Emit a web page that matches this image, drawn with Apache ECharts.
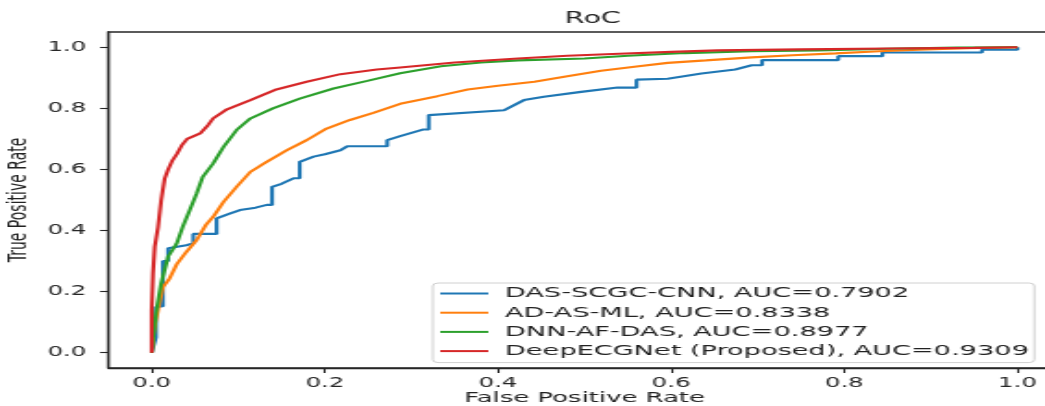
<!DOCTYPE html>
<html>
<head>
<meta charset="utf-8">
<script src="https://cdn.jsdelivr.net/npm/echarts@6/dist/echarts.min.js"></script>
<style>
html,body{margin:0;padding:0;background:#fff;overflow:hidden;width:1045px;height:406px;}
#chart{width:565px;height:406px;transform:scaleX(1.8496);transform-origin:0 0;}
</style>
</head>
<body>
<div id="chart"></div>
<script>
// ---- data ----
const titleText = 'RoC';
const xName = 'False Positive Rate';
const yName = 'True Positive Rate';
const tickValues = [0, 0.2, 0.4, 0.6, 0.8, 1.0];
const seriesNames = [
  'DAS-SCGC-CNN, AUC=0.7902',
  'AD-AS-ML, AUC=0.8338',
  'DNN-AF-DAS, AUC=0.8977',
  'DeepECGNet (Proposed), AUC=0.9309'
];
const seriesColors = ['#1f77b4', '#ff7f0e', '#2ca02c', '#d62728'];

const dasScgcCnn = [[0,0],[0.005,0.05],[0.005,0.15],[0.013,0.152],[0.013,0.30],[0.019,0.30],[0.019,0.342],[0.04,0.352],[0.048,0.358],[0.048,0.389],[0.075,0.389],[0.075,0.44],[0.09,0.455],[0.102,0.467],[0.12,0.475],[0.133,0.484],[0.139,0.484],[0.139,0.543],[0.15,0.553],[0.164,0.571],[0.171,0.571],[0.171,0.625],[0.187,0.642],[0.2,0.65],[0.218,0.663],[0.226,0.676],[0.272,0.676],[0.272,0.696],[0.287,0.709],[0.314,0.731],[0.32,0.731],[0.32,0.778],[0.407,0.794],[0.43,0.827],[0.453,0.838],[0.496,0.854],[0.538,0.868],[0.56,0.868],[0.56,0.894],[0.596,0.897],[0.635,0.914],[0.674,0.927],[0.693,0.941],[0.705,0.941],[0.705,0.958],[0.793,0.958],[0.793,0.971],[0.844,0.971],[0.844,0.983],[0.959,0.983],[0.959,0.992],[1.0,0.992],[1,1]];
const adAsMl = [[0,0],[0.003,0.08],[0.008,0.15],[0.013,0.215],[0.02,0.24],[0.029,0.29],[0.04,0.33],[0.052,0.369],[0.063,0.42],[0.071,0.445],[0.083,0.494],[0.098,0.543],[0.114,0.592],[0.133,0.625],[0.156,0.663],[0.179,0.696],[0.202,0.734],[0.229,0.762],[0.256,0.785],[0.287,0.815],[0.33,0.84],[0.365,0.862],[0.4,0.874],[0.442,0.887],[0.48,0.905],[0.519,0.923],[0.56,0.937],[0.596,0.949],[0.64,0.957],[0.693,0.967],[0.74,0.974],[0.79,0.98],[0.84,0.987],[0.886,0.992],[0.94,0.997],[1,1]];
const dnnAfDas = [[0,0],[0.0015,0.04],[0.005,0.13],[0.011,0.228],[0.019,0.315],[0.029,0.358],[0.036,0.413],[0.044,0.467],[0.052,0.522],[0.059,0.576],[0.071,0.62],[0.083,0.674],[0.098,0.729],[0.114,0.767],[0.14,0.80],[0.171,0.832],[0.21,0.865],[0.249,0.89],[0.287,0.915],[0.334,0.938],[0.38,0.95],[0.423,0.957],[0.5,0.963],[0.55,0.972],[0.616,0.981],[0.693,0.987],[0.77,0.99],[0.85,0.995],[0.93,0.999],[1,1]];
const deepEcgNet = [[0,0],[0,0.14],[0.0015,0.26],[0.0035,0.347],[0.0073,0.41],[0.011,0.5],[0.015,0.57],[0.019,0.6],[0.024,0.63],[0.029,0.65],[0.035,0.68],[0.041,0.70],[0.056,0.718],[0.065,0.745],[0.071,0.767],[0.087,0.797],[0.114,0.827],[0.144,0.862],[0.179,0.887],[0.218,0.912],[0.26,0.927],[0.287,0.934],[0.35,0.95],[0.423,0.963],[0.48,0.972],[0.54,0.979],[0.6,0.985],[0.654,0.99],[0.75,0.993],[0.85,0.996],[0.95,0.998],[1,1]];
const seriesData = [dasScgcCnn, adAsMl, dnnAfDas, deepEcgNet];

// ---- chart ----
const font = 'DejaVu Sans';
const chart = echarts.init(document.getElementById('chart'), null, {renderer: 'canvas'});
const axisCommon = {
  type: 'value',
  min: -0.05,
  max: 1.05,
  splitLine: {show: false},
  axisLine: {show: true, onZero: false, lineStyle: {color: '#262626', width: 1.3}},
  axisTick: {show: true, customValues: tickValues, length: 5, lineStyle: {color: '#262626', width: 1.1}},
  axisLabel: {customValues: tickValues, formatter: v => v.toFixed(1), color: '#262626', fontFamily: font, fontSize: 13.2},
  nameLocation: 'middle',
  nameMoveOverlap: false,
  nameTextStyle: {color: '#222', fontFamily: font}
};
chart.setOption({
  backgroundColor: '#fff',
  animation: false,
  title: {
    text: titleText, left: 315.5, top: 6, textAlign: 'center',
    textStyle: {fontFamily: font, fontWeight: 'normal', fontSize: 15.5, color: '#222'}
  },
  grid: {left: 58.6, top: 32, width: 514.9, height: 336, outerBoundsMode: 'none', containLabel: false,
         show: true, borderColor: '#262626', borderWidth: 1.3, backgroundColor: '#fff'},
  legend: {
    orient: 'vertical', left: 234, top: 283,
    icon: 'rect', itemWidth: 26, itemHeight: 2, itemGap: 4.2,
    padding: [3, 3, 4, 4],
    borderColor: '#d0d0d0', borderWidth: 1, borderRadius: 3, backgroundColor: 'rgba(255,255,255,0.8)',
    textStyle: {fontFamily: font, fontSize: 14.7, lineHeight: 14.5, color: '#222', padding: [0, 0, 0, 4]},
    data: seriesNames
  },
  xAxis: Object.assign({}, axisCommon, {
    name: xName, nameGap: 23, nameTextStyle: {color: '#222', fontFamily: font, fontSize: 14},
    axisLabel: Object.assign({}, axisCommon.axisLabel, {margin: 9})
  }),
  yAxis: Object.assign({}, axisCommon, {
    name: yName, nameGap: 41, nameTextStyle: {color: '#222', fontFamily: font, fontSize: 14},
    axisTick: Object.assign({}, axisCommon.axisTick, {length: 4.5}),
    axisLabel: Object.assign({}, axisCommon.axisLabel, {margin: 12})
  }),
  series: seriesNames.map((n, i) => ({
    name: n, type: 'line', data: seriesData[i], symbol: 'none', showSymbol: false,
    lineStyle: {color: seriesColors[i], width: 2.1}, itemStyle: {color: seriesColors[i]},
    z: 2 + i
  }))
});
</script>
</body>
</html>
